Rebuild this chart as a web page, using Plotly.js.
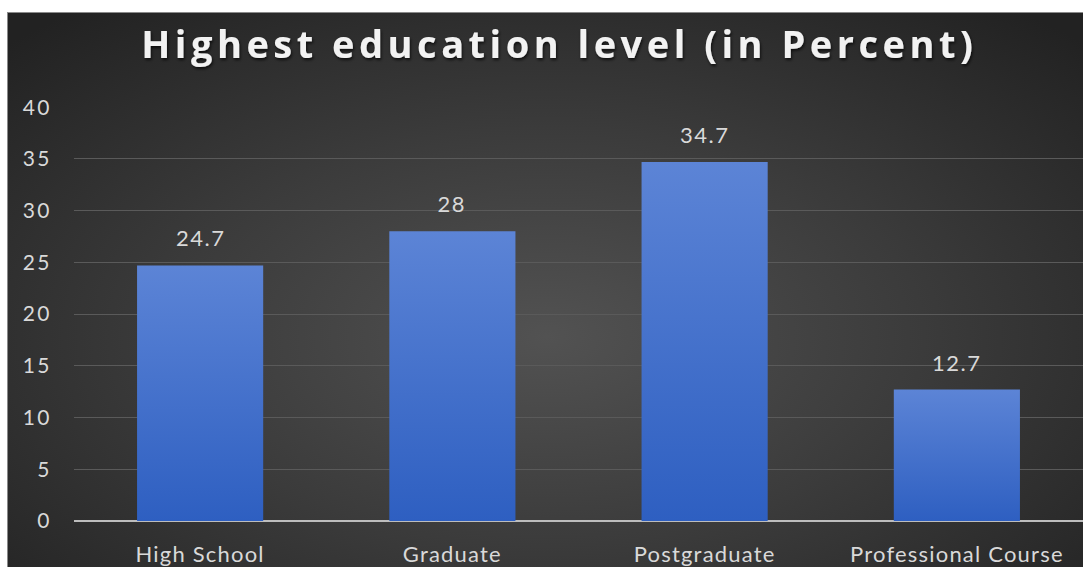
<!DOCTYPE html>
<html>
<head>
<meta charset="utf-8">
<script src="https://cdn.plot.ly/plotly-3.0.1.min.js"></script>
<style>
  html, body { margin: 0; padding: 0; background: #ffffff; width: 1083px; height: 567px; overflow: hidden; }
  #frame { position: absolute; left: 7px; top: 12px; width: 1080px; height: 560px; border: 1px solid #8a8a8a; box-sizing: border-box;
           background: radial-gradient(ellipse 70% 75% at 50% 58%, #525252 0%, #3b3b3b 50%, #222222 100%); }
  #chart { position: absolute; left: 8px; top: 13px; width: 1075px; height: 554px; }
  #chart .gtitle { letter-spacing: 4.5px; }
  #chart .xtick text { letter-spacing: 1.2px; }
  #chart .ytick text { letter-spacing: 2.5px; }
  #chart .annotation-text { letter-spacing: 1.5px; }
</style>
</head>
<body>
<div id="frame"></div>
<div id="chart"></div>
<script>
const categories = ["High School", "Graduate", "Postgraduate", "Professional Course"];
const values = [24.7, 28, 34.7, 12.7];
const valueLabels = ["24.7", "28", "34.7", "12.7"];
const yTicks = [0, 5, 10, 15, 20, 25, 30, 35, 40];

const labelColor = "#d9d9d9";
const font = "Lato, 'Open Sans', sans-serif";

const trace = {
  type: "bar",
  x: categories,
  y: values,
  width: 0.5,
  marker: { color: "#4672cc", line: { width: 0 } },
  hoverinfo: "x+y"
};

const annotations = categories.map((c, i) => ({
  x: c, y: values[i], text: valueLabels[i], showarrow: false,
  xref: "x", yref: "y", yanchor: "bottom", yshift: 12,
  font: { family: font, size: 22, color: labelColor }
}));

const layout = {
  width: 1075, height: 554,
  margin: { l: 66, r: 0, t: 94, b: 46 },
  paper_bgcolor: "rgba(0,0,0,0)",
  plot_bgcolor: "rgba(0,0,0,0)",
  title: {
    text: "<b>Highest education level (in Percent)</b>",
    font: { family: "'Open Sans', sans-serif", size: 38, color: "#f2f2f2" },
    x: 0.481, xanchor: "center", y: 0.942, yanchor: "middle", xref: "paper"
  },
  xaxis: {
    type: "category", range: [-0.5, 3.5],
    showgrid: false, zeroline: false,
    showline: false, ticks: "",
    tickfont: { family: font, size: 22, color: labelColor },
    ticklabelstandoff: 18
  },
  yaxis: {
    range: [0, 40.02], tickvals: yTicks, ticktext: yTicks.map(String),
    showgrid: true, gridcolor: "#5a5a5a", gridwidth: 1,
    zeroline: true, zerolinecolor: "#bdbdbd", zerolinewidth: 2,
    showline: false, ticks: "",
    tickfont: { family: font, size: 21, color: labelColor },
    ticklabelstandoff: 21
  },
  annotations: annotations,
  showlegend: false,
  bargap: 0.5
};

Plotly.newPlot("chart", [trace], layout, { displayModeBar: false, staticPlot: true }).then(gd => {
  const svg = gd.querySelector("svg.main-svg");
  const ns = "http://www.w3.org/2000/svg";
  let defs = svg.querySelector("defs");
  if (!defs) { defs = document.createElementNS(ns, "defs"); svg.insertBefore(defs, svg.firstChild); }
  const grad = document.createElementNS(ns, "linearGradient");
  grad.setAttribute("id", "barGrad");
  grad.setAttribute("x1", "0"); grad.setAttribute("y1", "0");
  grad.setAttribute("x2", "0"); grad.setAttribute("y2", "1");
  [["0", "#5c84d6"], ["1", "#2e5fc1"]].forEach(([o, c]) => {
    const s = document.createElementNS(ns, "stop");
    s.setAttribute("offset", o); s.setAttribute("stop-color", c);
    grad.appendChild(s);
  });
  defs.appendChild(grad);
  const filt = document.createElementNS(ns, "filter");
  filt.setAttribute("id", "tshadow");
  filt.setAttribute("x", "-10%"); filt.setAttribute("y", "-30%");
  filt.setAttribute("width", "120%"); filt.setAttribute("height", "160%");
  const ds = document.createElementNS(ns, "feDropShadow");
  ds.setAttribute("dx", "1"); ds.setAttribute("dy", "2");
  ds.setAttribute("stdDeviation", "1.5");
  ds.setAttribute("flood-color", "#000"); ds.setAttribute("flood-opacity", "0.7");
  filt.appendChild(ds);
  defs.appendChild(filt);
  gd.querySelectorAll(".bars .point path").forEach(p => { p.style.fill = "url(#barGrad)"; });
  document.querySelectorAll("#chart .gtitle").forEach(t => { t.style.filter = "url(#tshadow)"; });
});
</script>
</body>
</html>
